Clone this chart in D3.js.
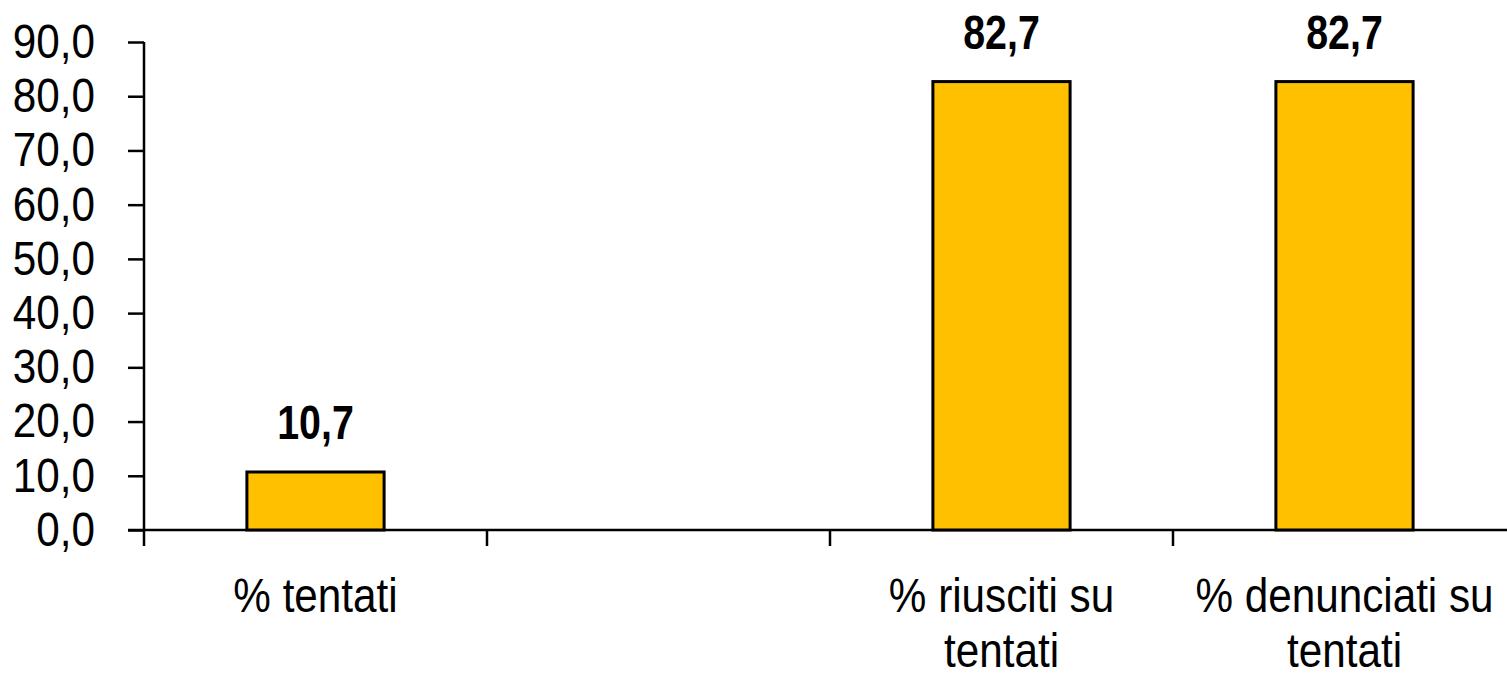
<!DOCTYPE html>
<html>
<head>
<meta charset="utf-8">
<script src="https://cdn.jsdelivr.net/npm/d3@7"></script>
<style>
  body{margin:0;background:#fff;overflow:hidden}
  text{font-family:"Liberation Sans",Arial,sans-serif;fill:#000}
</style>
</head>
<body>
<div id="chart"></div>
<script>
// data
let categories=["% tentati","","% riusciti su tentati","% denunciati su tentati"]
let values=[10.7,null,82.7,82.7]
let yTicks=[0,10,20,30,40,50,60,70,80,90]

let width=1507
let height=675
let plotLeft=144, plotRight=1516, plotTop=42, plotBottom=530
let narrow=0.88 //squeeze Liberation Sans to look like a narrow face
let narrowBold=0.82
let fontSize="48px"

let svg=d3.select("#chart").append("svg").attr("width",width).attr("height",height)

let xScale=d3.scaleBand().domain(categories.map((c,i)=>i)).range([plotLeft,plotRight]).padding(0)
let yScale=d3.scaleLinear().domain([0,90]).range([plotBottom,plotTop])
let fmt=v=>d3.format(".1f")(v).replace(".",",")

//y axis
let axisY=d3.axisLeft(yScale).tickValues(yTicks).tickFormat(fmt).tickSizeInner(16).tickSizeOuter(0).tickPadding(33)
let gy=svg.append("g").attr("transform","translate("+plotLeft+",0)").call(axisY)
gy.selectAll("text").attr("font-family",null).style("font-size",fontSize)
  .attr("x",0).attr("transform","translate(-49,0) scale("+narrow+",1)")
gy.selectAll("line").attr("stroke","#000").attr("stroke-width",2.5)
gy.select("path").remove()
gy.append("line").attr("x1",0).attr("x2",0).attr("y1",plotTop).attr("y2",plotBottom+16).attr("stroke","#000").attr("stroke-width",2.5)

//x axis line and ticks at band edges
svg.append("line").attr("x1",plotLeft-16).attr("x2",plotRight).attr("y1",plotBottom).attr("y2",plotBottom).attr("stroke","#000").attr("stroke-width",2.5)
svg.selectAll(".xtick").data(categories.map((c,i)=>i).slice(1)).enter().append("line")
  .attr("x1",d=>xScale(d)).attr("x2",d=>xScale(d)).attr("y1",plotBottom).attr("y2",plotBottom+16)
  .attr("stroke","#000").attr("stroke-width",2.5)

//bars
let bw=xScale.bandwidth()
let barData=values.map((v,i)=>({i:i,v:v})).filter(d=>d.v!=null)
svg.selectAll(".bar").data(barData).enter().append("rect")
  .attr("x",d=>xScale(d.i)+bw*0.3).attr("width",bw*0.4)
  .attr("y",d=>yScale(d.v)).attr("height",d=>yScale(0)-yScale(d.v))
  .attr("fill","#FFC000").attr("stroke","#000").attr("stroke-width",3)

//value labels
svg.selectAll(".val").data(barData).enter().append("text")
  .attr("transform",d=>"translate("+(xScale(d.i)+bw/2)+","+(yScale(d.v)-33)+") scale("+narrowBold+",1)")
  .attr("text-anchor","middle").style("font-size",fontSize).style("font-weight","bold")
  .text(d=>fmt(d.v))

//category labels, wrapped to the band
let labels=svg.selectAll(".cat").data(categories.map((c,i)=>({i:i,c:c}))).enter().append("text")
  .attr("transform",d=>"translate("+(xScale(d.i)+bw/2)+",612) scale("+narrow+",1)")
  .attr("text-anchor","middle").style("font-size",fontSize)
labels.each(function(d){
  let t=d3.select(this)
  let words=d.c.split(" ").filter(w=>w)
  let line=[]
  let tspan=t.append("tspan").attr("x",0).attr("dy",0)
  words.forEach(w=>{
    line.push(w)
    tspan.text(line.join(" "))
    if(tspan.node().getComputedTextLength()*narrow>bw-10 && line.length>1){
      line.pop()
      tspan.text(line.join(" "))
      line=[w]
      tspan=t.append("tspan").attr("x",0).attr("dy",55).text(w)
    }
  })
})
</script>
</body>
</html>
